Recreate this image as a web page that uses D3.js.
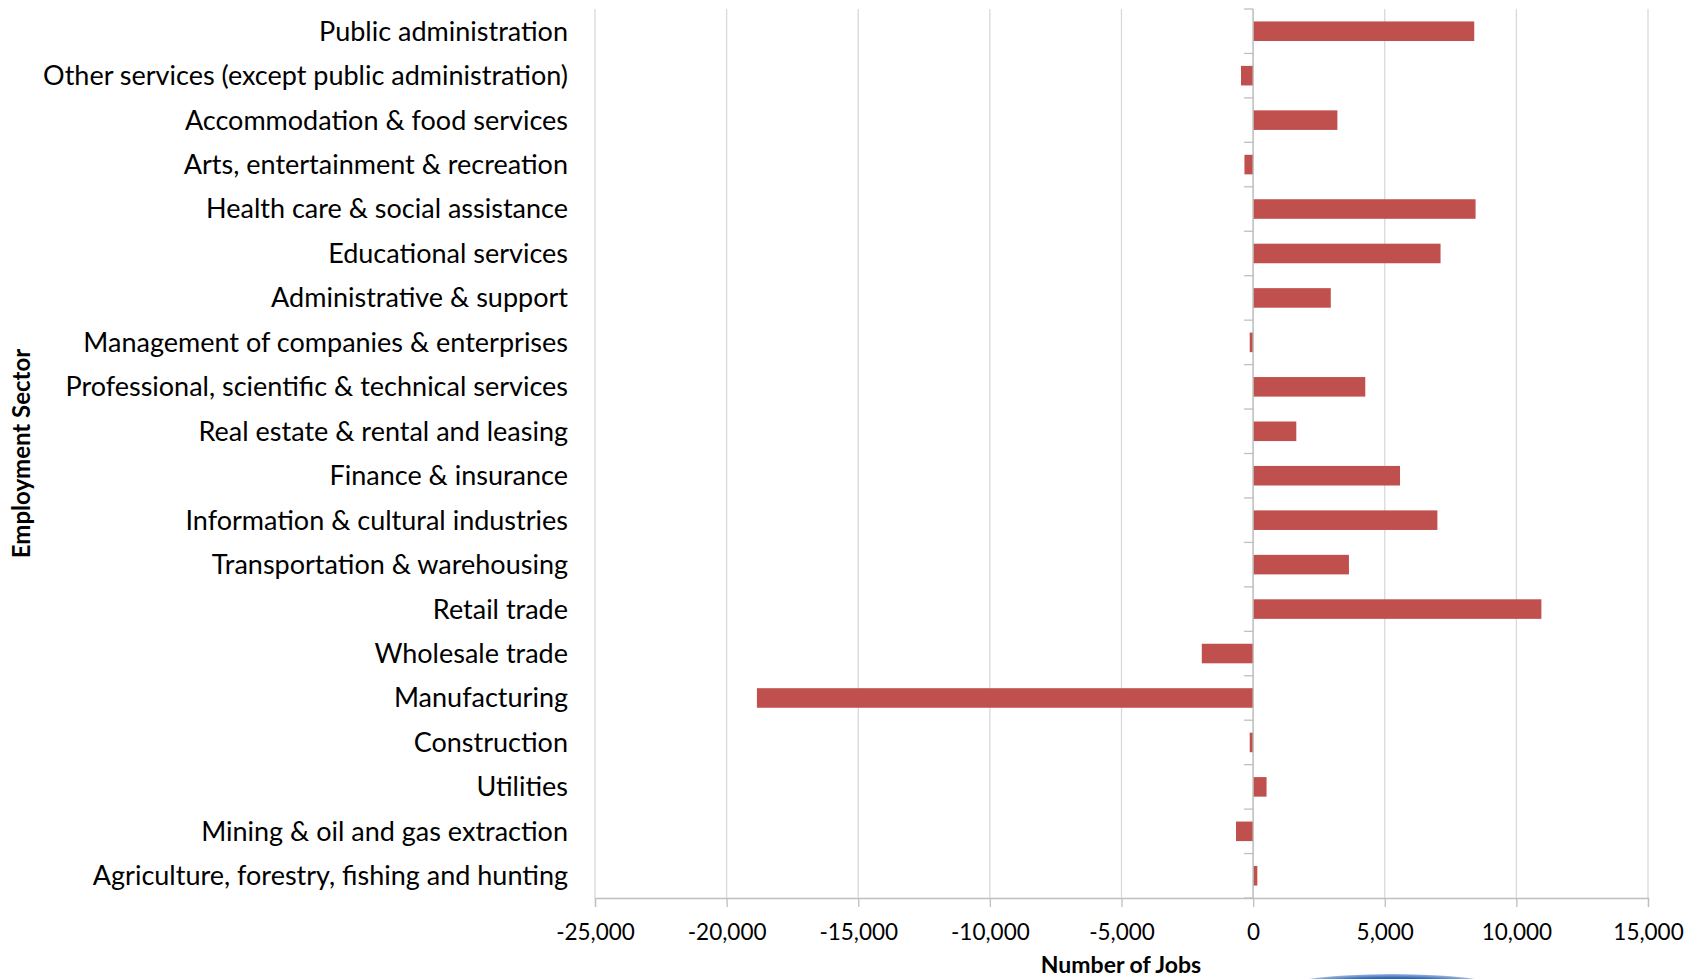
<!DOCTYPE html>
<html><head><meta charset="utf-8">
<script src="https://cdn.jsdelivr.net/npm/d3@7"></script>
<style>body{margin:0;background:#fff;} svg{display:block;}</style>
</head><body>
<svg id="chart" width="1697" height="979"></svg>
<script>
const categories = [
  "Public administration",
  "Other services (except public administration)",
  "Accommodation & food services",
  "Arts, entertainment & recreation",
  "Health care & social assistance",
  "Educational services",
  "Administrative & support",
  "Management of companies & enterprises",
  "Professional, scientific & technical services",
  "Real estate & rental and leasing",
  "Finance & insurance",
  "Information & cultural industries",
  "Transportation & warehousing",
  "Retail trade",
  "Wholesale trade",
  "Manufacturing",
  "Construction",
  "Utilities",
  "Mining & oil and gas extraction",
  "Agriculture, forestry, fishing and hunting"
];
const jobs = [8400, -460, 3200, -330, 8450, 7120, 2950, -130, 4260, 1640, 5580, 7000, 3640, 10950, -1950, -18850, -130, 510, -650, 160];
const xTicks = [-25000, -20000, -15000, -10000, -5000, 0, 5000, 10000, 15000];
const xTitle = "Number of Jobs";
const yTitle = "Employment Sector";

const W = 1697, H = 979;
const m = {top: 9, right: 49, bottom: 81, left: 595};
const iw = W - m.left - m.right, ih = H - m.top - m.bottom;
const svg = d3.select("#chart");
const g = svg.append("g").attr("transform", `translate(${m.left},${m.top})`);
const font = "Lato, 'Open Sans', sans-serif";

const x = d3.scaleLinear().domain([-25000, 15000]).range([0, iw]);
const y = d3.scaleBand().domain(categories).range([0, ih]).paddingInner(0.56).paddingOuter(0.28);

// gridlines
g.append("g").selectAll("line").data(xTicks).join("line")
  .attr("x1", d => x(d)).attr("x2", d => x(d))
  .attr("y1", 0).attr("y2", ih)
  .attr("stroke", "#d9d9d9").attr("stroke-width", 1.3);

// bars
g.append("g").selectAll("rect").data(categories).join("rect")
  .attr("x", (d, i) => x(Math.min(0, jobs[i])))
  .attr("width", (d, i) => Math.abs(x(jobs[i]) - x(0)))
  .attr("y", d => y(d))
  .attr("height", y.bandwidth())
  .attr("fill", "#c0504d");

// bottom axis
const xAxis = d3.axisBottom(x).tickValues(xTicks).tickSize(9).tickPadding(17)
  .tickFormat(d3.format(",d"));
const xa = g.append("g").attr("transform", `translate(0,${ih})`).call(xAxis);
xa.select(".domain").attr("stroke", "#bfbfbf").attr("stroke-width", 1.3);
xa.selectAll(".tick line").attr("stroke", "#bfbfbf").attr("stroke-width", 1.3);
xa.selectAll(".tick text").attr("font-family", font).attr("font-size", 22.5).attr("fill", "#000")
  .text(d => d3.format(",d")(d).replace("−", "-"));

// category axis at zero
const bounds = d3.range(categories.length + 1).map(i => i * ih / categories.length);
const ya = g.append("g");
ya.append("line").attr("x1", x(0)).attr("x2", x(0)).attr("y1", 0).attr("y2", ih)
  .attr("stroke", "#bfbfbf").attr("stroke-width", 1.3);
ya.selectAll("line.tk").data(bounds).join("line").attr("class", "tk")
  .attr("x1", x(0) - 9).attr("x2", x(0)).attr("y1", d => d).attr("y2", d => d)
  .attr("stroke", "#bfbfbf").attr("stroke-width", 1.3);

// category labels
g.append("g").selectAll("text").data(categories).join("text")
  .attr("x", -27)
  .attr("y", d => y(d) + y.bandwidth() / 2)
  .attr("dy", "0.35em")
  .attr("text-anchor", "end")
  .attr("font-family", font).attr("font-size", 27).attr("fill", "#000")
  .text(d => d);

// titles
svg.append("text").attr("x", 1121).attr("y", 973)
  .attr("text-anchor", "middle").attr("font-family", font).attr("font-weight", "bold")
  .attr("font-size", 23).attr("fill", "#000").text(xTitle);
svg.append("text").attr("transform", `translate(30,${m.top + ih / 2}) rotate(-90)`)
  .attr("text-anchor", "middle").attr("font-family", font).attr("font-weight", "bold")
  .attr("font-size", 24).attr("fill", "#000").text(yTitle);

// partial logo arc at bottom edge
const defs = svg.append("defs");
const rg = defs.append("radialGradient").attr("id", "logo");
rg.append("stop").attr("offset", "0%").attr("stop-color", "#173f8a");
rg.append("stop").attr("offset", "80%").attr("stop-color", "#2a63b8");
rg.append("stop").attr("offset", "100%").attr("stop-color", "#9bb8e0");
svg.append("ellipse").attr("cx", 1392).attr("cy", 994).attr("rx", 125).attr("ry", 20)
  .attr("fill", "url(#logo)");
</script>
</body></html>
